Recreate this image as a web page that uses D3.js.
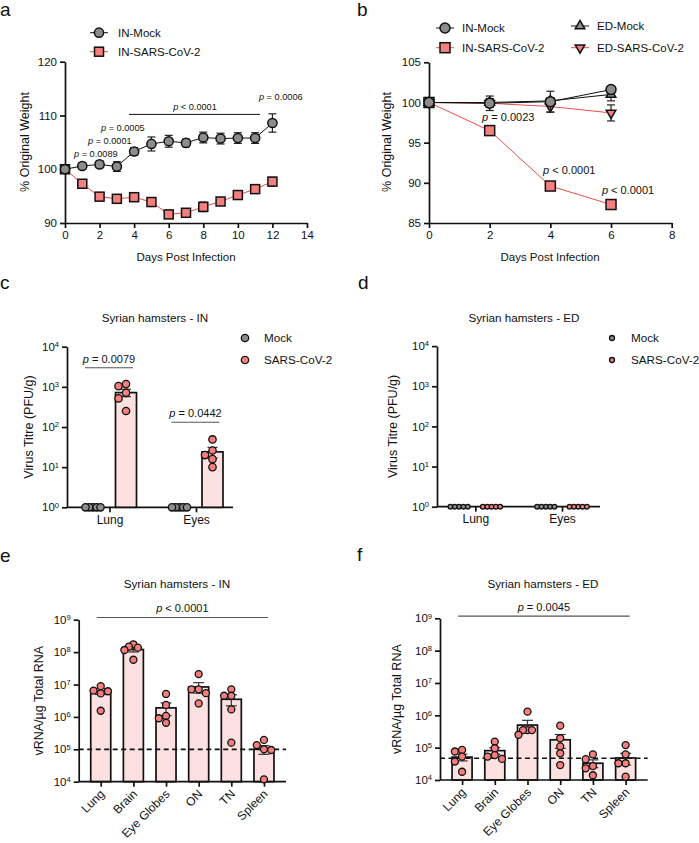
<!DOCTYPE html>
<html><head><meta charset="utf-8">
<script src="https://cdn.jsdelivr.net/npm/d3@7"></script>
<style>
html,body{margin:0;padding:0;background:#fff;}
svg text{font-family:"Liberation Sans",Arial,Helvetica,sans-serif;fill:#111;}
</style></head>
<body><svg id="chart" width="699" height="843"></svg>
<script>
// ---------------- DATA ----------------
// Panel a
const daysA = [0,1,2,3,4,5,6,7,8,9,10,11,12];
const mockA = [100,100.6,100.9,100.5,103.3,104.7,105.2,104.9,105.9,105.7,105.8,105.8,108.6];
const mockAErr = [0,0.6,0.6,0.9,0.7,1.3,1.1,0.7,1.0,1.0,1.0,1.0,1.7];
const sarsA = [100,97.3,94.9,94.5,94.8,93.9,91.6,91.9,93.0,94.0,95.2,96.3,97.7];
const sarsAErr = [0,0.4,0.5,0.4,0.4,0.5,0.4,0.5,0.9,0.7,0.8,0.6,0.8];
const xTicksA = [0,2,4,6,8,10,12,14];
const yTicksA = [90,100,110,120];
// Panel b
const daysB = [0,2,4,6];
const inMockB = [100,99.9,100.1,101.6];
const inMockBErr = [0,0.9,1.3,0.3];
const inSarsB = [100,96.5,89.6,87.3];
const inSarsBErr = [0,0.4,0.5,0.3];
const edMockB = [100,100.0,100.2,101.0];
const edMockBErr = [0,0.5,0.4,0.8];
const edSarsB = [100,99.9,99.5,98.7];
const edSarsBErr = [0,0.5,0.7,1.0];
const xTicksB = [0,2,4,6,8];
const yTicksB = [85,90,95,100,105];
// Panels c, d (virus titre)
const tissuesCD = ["Lung","Eyes"];
const cMock = [[1,1,1,1,1],[1,1,1,1,1]];
const cSars = [[1170,1040,710,515,250],[49,26,20,15.8,10]];
const cSarsMean = [720,24];
const cSarsSem = [150,7];
const cP = ["0.0079","0.0442"];
const dMock = [[1,1,1,1,1],[1,1,1,1,1]];
const dSars = [[1,1,1,1,1],[1,1,1,1,1]];
const titreTicks = [1,10,100,1000,10000];
// Panels e, f (vRNA)
const tissuesEF = ["Lung","Brain","Eye Globes","ON","TN","Spleen"];
const ePts = [[8.9e6,6.5e6,6.2e6,5.3e6,1.55e6],[1.74e8,1.47e8,1.37e8,1.16e8,5.8e7],[5.1e6,2.35e6,1.07e6,9.1e5,6.6e5],[2.1e7,7.1e6,7.1e6,5.4e6,2.6e6],[7.1e6,4.5e6,4.5e6,1.7e6,1.6e5],[1.95e5,1.35e5,1.0e5,9.5e4,1.18e4]];
const eMean = [6.2e6,1.2e8,1.9e6,8.4e6,3.5e6,1.0e5];
const eSem = [1.3e6,1.9e7,8e5,3e6,1.3e6,3e4];
const eLOD = 1e5;
const fPts = [[8.5e4,7.6e4,5.3e4,3.7e4,1.8e4],[1.54e5,9.6e4,5.9e4,5.3e4,4.5e4],[1.3e6,3.5e5,3.5e5,3.5e5,2.5e5],[4.8e5,1.95e5,1.1e5,6.7e4,2.9e4],[6.2e4,4.4e4,2.7e4,2.3e4,1.4e4],[1.2e5,6.2e4,3.3e4,3.3e4,1.27e4]];
const fMean = [5.1e4,8.1e4,5.0e5,1.75e5,3.3e4,4.8e4];
const fSem = [1.2e4,1.9e4,2e5,8e4,9e3,1.9e4];
const fLOD = 4.7e4;
const rnaTicks = [1e4,1e5,1e6,1e7,1e8,1e9];

// ---------------- STYLE ----------------
const GRAY = "#8c8c8c", SALMON = "#f37f7f", RED = "#ef4a4a", PINK = "#fde1e1", INK = "#111";
const svg = d3.select("#chart");

function styleAxis(g, fs){
  g.selectAll("path.domain").attr("stroke",INK).attr("stroke-width",1.7);
  g.selectAll(".tick line").attr("stroke",INK).attr("stroke-width",1.7);
  g.selectAll(".tick text").attr("font-size",fs).attr("fill",INK)
    .attr("font-family","'Liberation Sans',Arial,Helvetica,sans-serif");
}
function logLabels(g){
  g.selectAll(".tick text").each(function(d){
    const e = Math.round(Math.log10(d));
    const t = d3.select(this); t.text(null);
    t.append("tspan").text("10");
    t.append("tspan").attr("dy","-0.5em").attr("font-size","0.66em").text(e);
  });
}
function pText(sel, rel, val){
  sel.append("tspan").attr("font-style","italic").text("p");
  sel.append("tspan").text(" " + rel + " " + val);
}
function label(x,y,txt,fs,anchor,rot){
  const t = svg.append("text").attr("font-size",fs).attr("text-anchor",anchor||"middle");
  if(rot) t.attr("transform",`translate(${x},${y}) rotate(${rot})`); else t.attr("x",x).attr("y",y);
  t.text(txt); return t;
}
function errBars(g, xs, ys, errs, xS, yS, cap, color){
  xs.forEach((x,i)=>{
    if(!errs[i]) return;
    const px = xS(x), lo = yS(ys[i]-errs[i]), hi = yS(ys[i]+errs[i]);
    g.append("line").attr("x1",px).attr("x2",px).attr("y1",lo).attr("y2",hi).attr("stroke",color).attr("stroke-width",1.2);
    [lo,hi].forEach(yy=>g.append("line").attr("x1",px-cap).attr("x2",px+cap).attr("y1",yy).attr("y2",yy).attr("stroke",color).attr("stroke-width",1.2));
  });
}

// panel letters
[["a",0,16],["b",357,16],["c",0,289],["d",358,289],["e",0,562],["f",357,561]].forEach(d=>label(d[1],d[2],d[0],19,"start"));

// ---------------- PANEL A ----------------
(function(){
  const x = d3.scaleLinear().domain([0,14]).range([65,307]);
  const y = d3.scaleLinear().domain([90,120]).range([223,61.7]);
  const g = svg.append("g");
  const ax = g.append("g").attr("transform","translate(0,223)").call(d3.axisBottom(x).tickValues(xTicksA).tickSize(5).tickSizeOuter(0));
  styleAxis(ax,11.5);
  const ay = g.append("g").attr("transform","translate(65,0)").call(d3.axisLeft(y).tickValues(yTicksA).tickSize(5).tickSizeOuter(0));
  styleAxis(ay,11.5);
  label(186,261,"Days Post Infection",11.5);
  label(29,142,"% Original Weight",12.5,"middle",-90);
  const line = d3.line().x((d,i)=>x(daysA[i])).y(d=>y(d));
  g.append("path").attr("d",line(sarsA)).attr("fill","none").attr("stroke",RED).attr("stroke-width",1);
  g.append("path").attr("d",line(mockA)).attr("fill","none").attr("stroke",INK).attr("stroke-width",1);
  errBars(g,daysA,sarsA,sarsAErr,x,y,4,"#444");
  errBars(g,daysA,mockA,mockAErr,x,y,4,"#222");
  sarsA.forEach((v,i)=>g.append("rect").attr("x",x(daysA[i])-4.5).attr("y",y(v)-4.5).attr("width",9).attr("height",9).attr("fill",SALMON).attr("stroke",INK).attr("stroke-width",1.5));
  mockA.forEach((v,i)=>g.append("circle").attr("cx",x(daysA[i])).attr("cy",y(v)).attr("r",4.6).attr("fill",GRAY).attr("stroke",INK).attr("stroke-width",1.5));
  // legend
  g.append("line").attr("x1",90).attr("x2",108).attr("y1",32.7).attr("y2",32.7).attr("stroke",INK);
  g.append("circle").attr("cx",99).attr("cy",32.7).attr("r",4.6).attr("fill",GRAY).attr("stroke",INK).attr("stroke-width",1.5);
  label(118,37,"IN-Mock",11.5,"start");
  g.append("line").attr("x1",90).attr("x2",108).attr("y1",51.7).attr("y2",51.7).attr("stroke",RED);
  g.append("rect").attr("x",94.5).attr("y",47.2).attr("width",9).attr("height",9).attr("fill",SALMON).attr("stroke",INK).attr("stroke-width",1.5);
  label(118,56,"IN-SARS-CoV-2",11.5,"start");
  // annotations
  const ann = [[0.52,102.27,"=","0.0089","start"],[1.33,104.7,"=","0.0001","start"],[2.08,107.1,"=","0.0005","start"],[7.52,111.0,"<","0.0001","middle"],[11.22,112.9,"=","0.0006","start"]];
  ann.forEach(a=>pText(g.append("text").attr("x",x(a[0])).attr("y",y(a[1])).attr("font-size",9.2).attr("text-anchor",a[4]),a[2],a[3]));
  g.append("line").attr("x1",x(3.7)).attr("x2",x(11.28)).attr("y1",y(110.2)).attr("y2",y(110.2)).attr("stroke",INK).attr("stroke-width",1);
})();

// ---------------- PANEL B ----------------
(function(){
  const x = d3.scaleLinear().domain([0,8]).range([429,671.7]);
  const y = d3.scaleLinear().domain([85,105]).range([223,62.3]);
  const g = svg.append("g");
  const ax = g.append("g").attr("transform","translate(0,223)").call(d3.axisBottom(x).tickValues(xTicksB).tickSize(5).tickSizeOuter(0));
  styleAxis(ax,11.5);
  const ay = g.append("g").attr("transform","translate(429,0)").call(d3.axisLeft(y).tickValues(yTicksB).tickSize(5).tickSizeOuter(0));
  styleAxis(ay,11.5);
  label(550,261,"Days Post Infection",11.5);
  label(391,142,"% Original Weight",12.5,"middle",-90);
  const line = d3.line().x((d,i)=>x(daysB[i])).y(d=>y(d));
  const series = [
    {v:inSarsB,e:inSarsBErr,c:RED,m:"sq"},
    {v:edSarsB,e:edSarsBErr,c:RED,m:"tdown"},
    {v:edMockB,e:edMockBErr,c:INK,m:"tup"},
    {v:inMockB,e:inMockBErr,c:INK,m:"circ"}];
  function marker(gg,m,cx,cy){
    if(m==="sq") gg.append("rect").attr("x",cx-5).attr("y",cy-5).attr("width",10).attr("height",10).attr("fill",SALMON).attr("stroke",INK).attr("stroke-width",1.5);
    else if(m==="circ") gg.append("circle").attr("cx",cx).attr("cy",cy).attr("r",5).attr("fill",GRAY).attr("stroke",INK).attr("stroke-width",1.5);
    else gg.append("path").attr("d",d3.symbol(d3.symbolTriangle,40)()).attr("transform",`translate(${cx},${cy}) rotate(${m==="tdown"?180:0})`)
      .attr("fill",m==="tdown"?SALMON:GRAY).attr("stroke",INK).attr("stroke-width",1.5);
  }
  series.forEach(s=>g.append("path").attr("d",line(s.v)).attr("fill","none").attr("stroke",s.c).attr("stroke-width",1));
  series.forEach(s=>{
    errBars(g,daysB,s.v,s.e,x,y,4,"#222");
    s.v.forEach((v,i)=>marker(g,s.m,x(daysB[i]),y(v)));
  });
  // legend
  const leg = [[436,28,INK,"circ","IN-Mock"],[436,47.7,RED,"sq","IN-SARS-CoV-2"],[571,26,INK,"tup","ED-Mock"],[571,47.7,RED,"tdown","ED-SARS-CoV-2"]];
  leg.forEach(l=>{
    g.append("line").attr("x1",l[0]).attr("x2",l[0]+18).attr("y1",l[1]).attr("y2",l[1]).attr("stroke",l[2]);
    marker(g,l[3],l[0]+9,l[1]);
    label(l[0]+26,l[1]+4,l[4],11.5,"start");
  });
  const ann = [[1.75,97.7,"=","0.0023"],[3.76,91.1,"<","0.0001"],[5.7,88.6,"<","0.0001"]];
  ann.forEach(a=>pText(g.append("text").attr("x",x(a[0])).attr("y",y(a[1])).attr("font-size",11).attr("text-anchor","start"),a[2],a[3]));
})();

// ---------------- BEESWARM ----------------
function swarm(vals, yS, r, maxHalf){
  const step = 2*r+0.2, thr = 2*r*0.9;
  const order = vals.map((v,i)=>i).sort((a,b)=>vals[b]-vals[a]);
  const placed = [], off = new Array(vals.length).fill(0);
  order.forEach(i=>{
    const py = yS(vals[i]);
    const cands = [0,-1,1,-2,2,-3,3];
    for(const k of cands){
      const px = k*step;
      if(placed.every(p=>Math.hypot(p[0]-px,p[1]-py)>=thr)){ off[i]=px; placed.push([px,py]); break; }
    }
  });
  const mx = d3.max(off,Math.abs);
  if(mx>maxHalf){ const s = maxHalf/mx; for(let i=0;i<off.length;i++) off[i]*=s; }
  return off;
}

// ---------------- PANELS C, D ----------------
function titrePanel(o){
  const y = d3.scaleLog().domain([1,1e4]).range([o.y0,o.y0-160.6]);
  const x = d3.scalePoint().domain(tissuesCD).range([o.c0,o.c1]);
  const g = svg.append("g");
  label(o.title[0],o.title[1],o.titleTxt,11.7);
  label(o.ylab,(o.y0+o.y0-160.6)/2,"Virus Titre (PFU/g)",12.5,"middle",-90);
  const ay = g.append("g").attr("transform",`translate(${o.ax0},0)`).call(d3.axisLeft(y).tickValues(titreTicks).tickSize(5).tickSizeOuter(0));
  styleAxis(ay,11.5); logLabels(ay);
  const ax = g.append("g").attr("transform",`translate(0,${o.y0})`).call(d3.axisBottom(x).tickSize(5).tickSizeOuter(0));
  ax.select("path.domain").remove();
  styleAxis(ax,12);
  g.append("line").attr("x1",o.ax0).attr("x2",o.ax1).attr("y1",o.y0).attr("y2",o.y0).attr("stroke",INK).attr("stroke-width",1.7);
  tissuesCD.forEach((t,i)=>{
    const cx = x(t);
    const cm = cx-o.off, cs = cx+o.off;
    if(o.mean){
      const top = y(o.mean[i]);
      g.append("rect").attr("x",cs-10.5).attr("y",top).attr("width",21).attr("height",o.y0-top).attr("fill",PINK).attr("stroke",INK).attr("stroke-width",1.7);
      const lo=y(o.mean[i]-o.sem[i]), hi=y(o.mean[i]+o.sem[i]);
      g.append("line").attr("x1",cs).attr("x2",cs).attr("y1",lo).attr("y2",hi).attr("stroke","#333").attr("stroke-width",1.2);
      [lo,hi].forEach(yy=>g.append("line").attr("x1",cs-5).attr("x2",cs+5).attr("y1",yy).attr("y2",yy).attr("stroke","#333").attr("stroke-width",1.2));
    }
    [[o.mock[i],cm,GRAY],[o.sars[i],cs,SALMON]].forEach(grp=>{
      const offs = swarm(grp[0],y,o.r,o.maxHalf);
      grp[0].forEach((v,k)=>g.append("circle").attr("cx",grp[1]+offs[k]).attr("cy",y(v)).attr("r",o.r).attr("fill",grp[2]).attr("stroke",INK).attr("stroke-width",1.3));
    });
    if(o.p){
      const ly = y(o.pLine[i]);
      g.append("line").attr("x1",cm-8).attr("x2",cs+7).attr("y1",ly).attr("y2",ly).attr("stroke","#555").attr("stroke-width",1.1);
      pText(g.append("text").attr("x",(cm-8+cs+7)/2).attr("y",ly-5).attr("font-size",11).attr("text-anchor","middle"),"=",o.p[i]);
    }
  });
  // legend
  [["Mock",GRAY,o.leg[1]],["SARS-CoV-2",SALMON,o.leg[1]+22]].forEach(l=>{
    g.append("circle").attr("cx",o.leg[0]).attr("cy",l[2]).attr("r",o.legR).attr("fill",l[1]).attr("stroke",INK).attr("stroke-width",1.3);
    label(o.leg[0]+19,l[2]+4,l[0],11.7,"start");
  });
}
titrePanel({y0:507.3,ax0:67,ax1:233,c0:109.5,c1:196,off:16.5,mock:cMock,sars:cSars,mean:cSarsMean,sem:cSarsSem,
  p:cP,pLine:[3000,131],r:3.7,maxHalf:7.5,title:[155,322],titleTxt:"Syrian hamsters - IN",ylab:33,leg:[245,338],legR:3.7});
titrePanel({y0:506.7,ax0:437,ax1:600,c0:475.3,c1:562,off:16.2,mock:dMock,sars:dSars,mean:null,sem:null,
  p:null,r:2.3,maxHalf:8.7,title:[524,322],titleTxt:"Syrian hamsters - ED",ylab:397,leg:[612,338],legR:2.5});

// ---------------- PANELS E, F ----------------
function rnaPanel(o){
  const y = d3.scaleLog().domain([1e4,1e9]).range([o.y0,o.y0-o.h]);
  const x = d3.scalePoint().domain(tissuesEF).range([o.ax0,o.ax1]).padding(0.675);
  const g = svg.append("g");
  label(o.title[0],o.title[1],o.titleTxt,11.7);
  label(o.ylab,o.y0-o.h/2,"vRNA/µg Total RNA",12.5,"middle",-90);
  tissuesEF.forEach((t,i)=>{
    const cx = x(t), top = y(o.mean[i]);
    g.append("rect").attr("x",cx-10).attr("y",top).attr("width",20).attr("height",o.y0-top).attr("fill",PINK).attr("stroke",INK).attr("stroke-width",1.7);
  });
  const ax = g.append("g").attr("transform",`translate(0,${o.y0})`).call(d3.axisBottom(x).tickSize(5).tickSizeOuter(0));
  ax.select("path.domain").remove();
  styleAxis(ax,12);
  ax.selectAll(".tick text").attr("text-anchor","end").attr("dy",null).attr("y",null)
    .attr("transform","translate(4,13) rotate(-45)");
  g.append("line").attr("x1",o.ax0).attr("x2",o.ax1).attr("y1",o.y0).attr("y2",o.y0).attr("stroke",INK).attr("stroke-width",1.7);
  const ay = g.append("g").attr("transform",`translate(${o.ax0},0)`).call(d3.axisLeft(y).tickValues(rnaTicks).tickSize(5).tickSizeOuter(0));
  styleAxis(ay,11.5); logLabels(ay);
  // LOD dashed
  g.append("line").attr("x1",o.ax0).attr("x2",o.ax1).attr("y1",y(o.lod)).attr("y2",y(o.lod)).attr("stroke",INK).attr("stroke-width",1.7).attr("stroke-dasharray","5,3.5");
  tissuesEF.forEach((t,i)=>{
    const cx = x(t);
    const lo=y(o.mean[i]-o.sem[i]), hi=y(o.mean[i]+o.sem[i]);
    g.append("line").attr("x1",cx).attr("x2",cx).attr("y1",lo).attr("y2",hi).attr("stroke","#333").attr("stroke-width",1.2);
    [lo,hi].forEach(yy=>g.append("line").attr("x1",cx-5.5).attr("x2",cx+5.5).attr("y1",yy).attr("y2",yy).attr("stroke","#333").attr("stroke-width",1.2));
    const offs = swarm(o.pts[i],y,3.5,9);
    o.pts[i].forEach((v,k)=>g.append("circle").attr("cx",cx+offs[k]).attr("cy",y(v)).attr("r",3.5).attr("fill",SALMON).attr("stroke",INK).attr("stroke-width",1.3));
  });
  const ly = y(1.17e9);
  g.append("line").attr("x1",x(tissuesEF[0])-4).attr("x2",x(tissuesEF[5])+4).attr("y1",ly).attr("y2",ly).attr("stroke","#555").attr("stroke-width",1.1);
  pText(g.append("text").attr("x",(x(tissuesEF[0])+x(tissuesEF[5]))/2).attr("y",ly-5).attr("font-size",11).attr("text-anchor","middle"),o.pRel,o.p);
}
rnaPanel({y0:781.7,h:162,ax0:78.7,ax1:286,pts:ePts,mean:eMean,sem:eSem,lod:eLOD,pRel:"<",p:"0.0001",
  title:[177,588],titleTxt:"Syrian hamsters - IN",ylab:43});
rnaPanel({y0:780,h:161.7,ax0:440,ax1:647.7,pts:fPts,mean:fMean,sem:fSem,lod:fLOD,pRel:"=",p:"0.0045",
  title:[543,588],titleTxt:"Syrian hamsters - ED",ylab:401});
</script></body></html>
